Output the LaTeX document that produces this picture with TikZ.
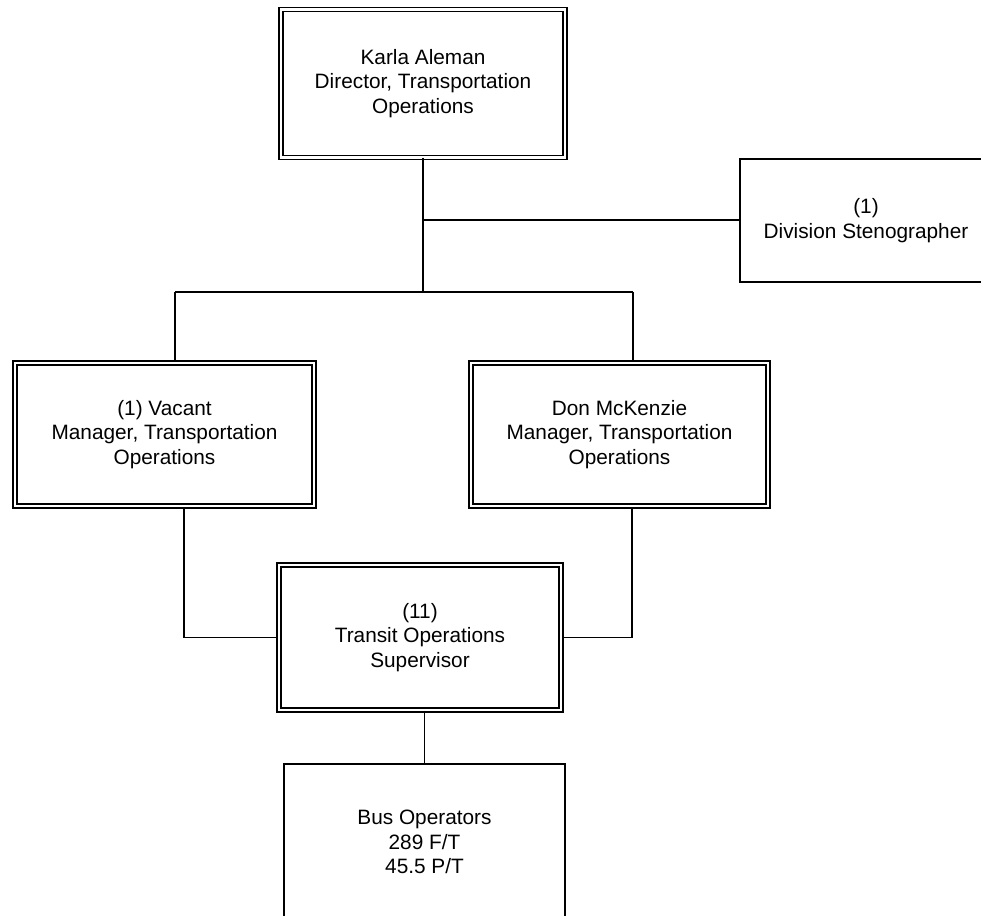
\documentclass[tikz,border=0pt]{standalone}
\usepackage{fontspec}
\setmainfont{Liberation Sans}
\begin{document}
\begin{tikzpicture}[x=1pt,y=-1pt,
  txt/.style={align=center, inner sep=0pt, font=\fontsize{20.8}{24.5}\selectfont},
  dbox/.style={txt, draw, double, double distance=2.6pt, line width=1.4pt},
  sbox/.style={txt, draw, line width=1.6pt},
  conn/.style={line width=1.5pt}]
\useasboundingbox (0,0) rectangle (981,915);
\clip (0,0) rectangle (981,915);

\node[dbox, minimum width=284pt, minimum height=147.5pt] (karla) at (423,83.5)
  {Karla Aleman\\Director, Transportation\\Operations};
\node[sbox, minimum width=252pt, minimum height=123pt] (steno) at (866,220.5)
  {(1)\\Division Stenographer};
\node[dbox, minimum width=299pt, minimum height=143pt] (mgrA) at (164.5,434.5)
  {(1) Vacant\\Manager, Transportation\\Operations};
\node[dbox, minimum width=297pt, minimum height=143pt] (mgrB) at (619.5,434.5)
  {Don McKenzie\\Manager, Transportation\\Operations};
\node[dbox, minimum width=282pt, minimum height=145pt] (tos) at (420,637.5)
  {(11)\\Transit Operations\\Supervisor};
\node[sbox, minimum width=281pt, minimum height=156pt] (bus) at (424.5,842)
  {Bus Operators\\289 F/T\\45.5 P/T};

\coordinate (jtop) at (423,292);
\coordinate (jsteno) at (423,220);
\coordinate (jl) at (175,292);
\coordinate (jr) at (633,292);
\coordinate (aout) at (184,508);
\coordinate (bout) at (632,508);

\draw[conn] (karla.south) -- (jtop);
\draw[conn] (jsteno) -- (steno.west |- jsteno);
\draw[conn] (jl) -- (jr);
\draw[conn] (jl) -- (jl |- mgrA.north);
\draw[conn] (jr) -- (jr |- mgrB.north);
\draw[conn] (aout) -- (aout |- tos.west) -- (tos.west);
\draw[conn] (bout) -- (bout |- tos.east) -- (tos.east);
\draw[conn] (tos.south -| bus.north) -- (bus.north);
\end{tikzpicture}
\end{document}
